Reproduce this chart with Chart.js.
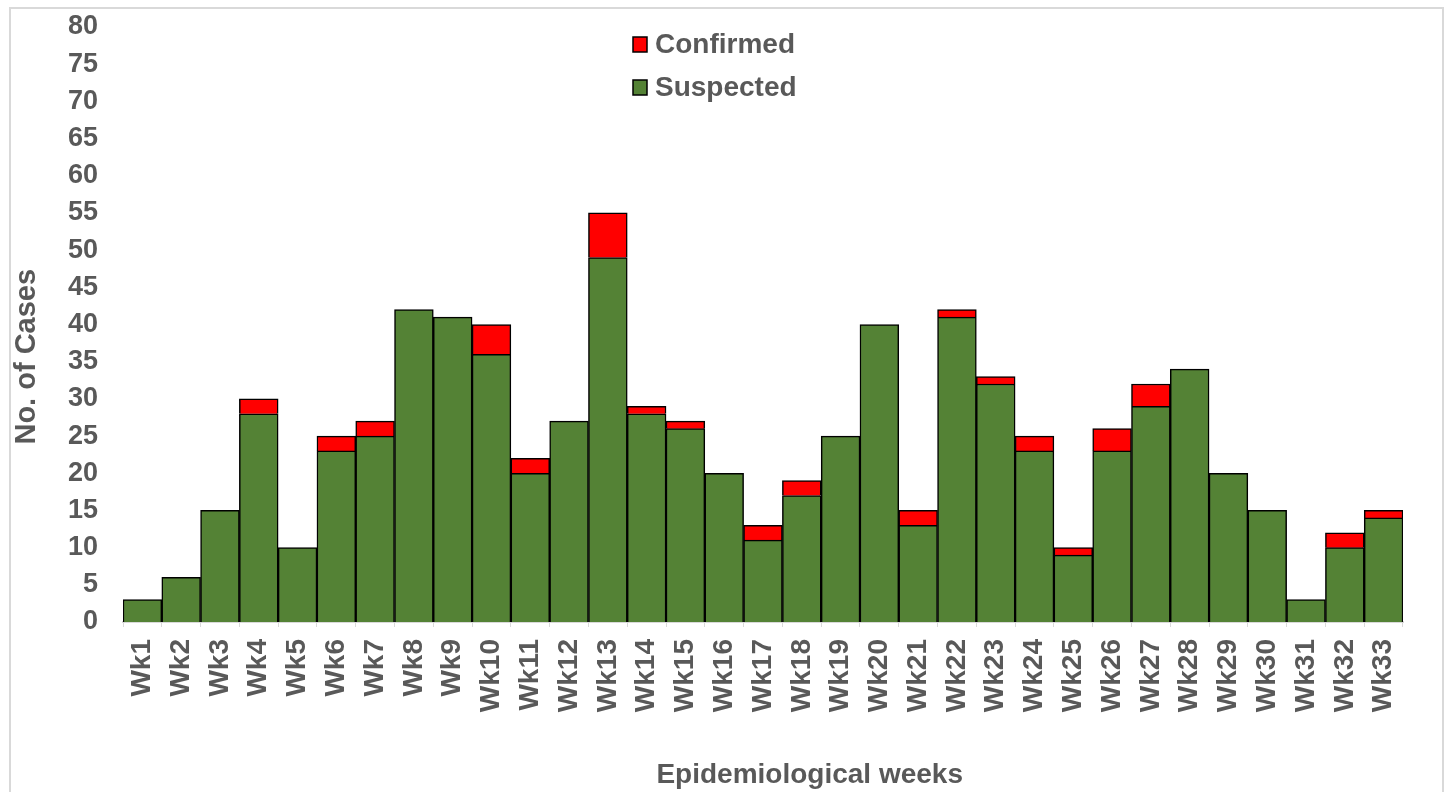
<!DOCTYPE html>
<html>
<head>
    <meta charset="UTF-8">
    <title>Epidemiological weeks</title>
    <script src="https://cdn.jsdelivr.net/npm/chart.js"></script>
    <style>
        body { margin: 0; background: #fff; }
        #wrap { position: relative; width: 1453px; height: 792px; }
        #frame { position: absolute; left: 9px; top: 7px; width: 1435px; height: 800px; border: 2px solid #d9d9d9; box-sizing: border-box; }
        canvas { position: absolute; left: 0; top: 0; }
    </style>
</head>
<body>
<div id="wrap">
    <div id="frame"></div>
    <canvas id="myChart" width="1453" height="792"></canvas>
</div>

<script>
    const weeks = ['Wk1','Wk2','Wk3','Wk4','Wk5','Wk6','Wk7','Wk8','Wk9','Wk10','Wk11',
        'Wk12','Wk13','Wk14','Wk15','Wk16','Wk17','Wk18','Wk19','Wk20','Wk21','Wk22',
        'Wk23','Wk24','Wk25','Wk26','Wk27','Wk28','Wk29','Wk30','Wk31','Wk32','Wk33'];
    const suspected = [3, 6, 15, 28, 10, 23, 25, 42, 41, 36, 20,
        27, 49, 28, 26, 20, 11, 17, 25, 40, 13, 41,
        32, 23, 9, 23, 29, 34, 20, 15, 3, 10, 14];
    const confirmed = [0, 0, 0, 2, 0, 2, 2, 0, 0, 4, 2,
        0, 6, 1, 1, 0, 2, 2, 0, 0, 2, 1,
        1, 2, 1, 3, 3, 0, 0, 0, 0, 2, 1];

    const textColor = '#595959';
    const fontFamily = 'Arial, "Liberation Sans", sans-serif';
    // the original axis titles sit a little off the plot centre, padded with spaces
    const pad = n => '\u00a0'.repeat(n);

    // legend drawn as a vertical list in the middle top of the plot, like the original
    const stackLegend = {
        id: 'stackLegend',
        afterDraw(chart) {
            const ctx = chart.ctx;
            const items = chart.data.datasets.slice().reverse();
            ctx.save();
            ctx.font = 'bold 28px ' + fontFamily;
            ctx.textBaseline = 'middle';
            items.forEach((ds, i) => {
                const y = 44 + i * 43;
                ctx.fillStyle = ds.backgroundColor;
                ctx.strokeStyle = '#000';
                ctx.lineWidth = 1.5;
                ctx.fillRect(633, y - 7, 14, 15);
                ctx.strokeRect(633, y - 7, 14, 15);
                ctx.fillStyle = textColor;
                ctx.fillText(ds.label, 655, y + 1);
            });
            ctx.restore();
        }
    };

    const data = {
        labels: weeks,
        datasets: [{
            label: 'Suspected',
            data: suspected,
            backgroundColor: '#548235',
            borderColor: '#000',
            borderWidth: 1.5,
            barPercentage: 1,
            categoryPercentage: 1
        }, {
            label: 'Confirmed',
            data: confirmed,
            backgroundColor: '#ff0000',
            borderColor: '#000',
            borderWidth: 1.5,
            barPercentage: 1,
            categoryPercentage: 1
        }]
    };

    const config = {
        type: 'bar',
        data: data,
        options: {
            responsive: false,
            animation: false,
            layout: { padding: { left: 10, right: 50, top: 27, bottom: 0 } },
            plugins: {
                legend: { display: false },
                tooltip: { enabled: false }
            },
            scales: {
                x: {
                    stacked: true,
                    grid: { display: true, drawOnChartArea: false, drawTicks: true, tickLength: 5, color: '#d9d9d9' },
                    border: { display: true, color: '#d9d9d9', width: 2 },
                    ticks: {
                        color: textColor,
                        font: { family: fontFamily, size: 28, weight: 'bold' },
                        minRotation: 90,
                        maxRotation: 90,
                        autoSkip: false,
                        padding: 12
                    },
                    title: {
                        display: true,
                        text: pad(12) + 'Epidemiological weeks',
                        color: textColor,
                        font: { family: fontFamily, size: 28, weight: 'bold' },
                        padding: { top: 0, bottom: 0 }
                    },
                    afterFit(scale) {
                        scale.height = 792 - 622;
                        scale.paddingTop = 0;
                        scale.paddingBottom = 0;
                    }
                },
                y: {
                    stacked: true,
                    min: 0,
                    max: 80,
                    grid: { display: false, drawTicks: false },
                    border: { display: false },
                    ticks: {
                        stepSize: 5,
                        color: textColor,
                        font: { family: fontFamily, size: 27, weight: 'bold' },
                        padding: 25
                    },
                    title: {
                        display: true,
                        text: 'No. of Cases' + pad(8),
                        color: textColor,
                        font: { family: fontFamily, size: 29, weight: 'bold' },
                        padding: { top: 0, bottom: 0 }
                    },
                    afterFit(scale) {
                        scale.width = 113;
                        scale.paddingTop = 0;
                        scale.paddingBottom = 0;
                    }
                }
            }
        },
        plugins: [stackLegend]
    };

    const chart = new Chart(document.getElementById('myChart'), config);
</script>
</body>
</html>
